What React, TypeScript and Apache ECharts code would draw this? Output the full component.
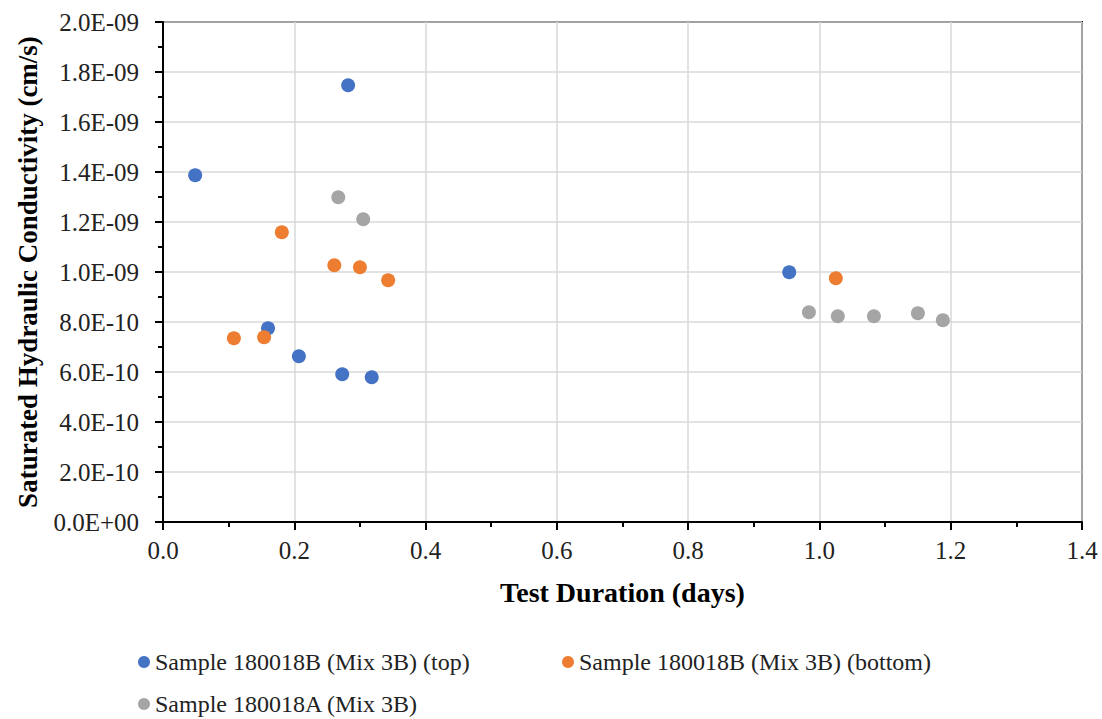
import React, { useEffect, useRef } from "react";
import * as echarts from "echarts";

const topX = [0.049, 0.160, 0.207, 0.273, 0.318, 0.282, 0.954];
const topY = [1.387e-9, 7.75e-10, 6.63e-10, 5.91e-10, 5.79e-10, 1.747e-9, 9.99e-10];
const bottomX = [0.108, 0.154, 0.181, 0.261, 0.300, 0.343, 1.025];
const bottomY = [7.35e-10, 7.39e-10, 1.159e-9, 1.027e-9, 1.019e-9, 9.67e-10, 9.75e-10];
const aX = [0.267, 0.305, 0.984, 1.028, 1.083, 1.150, 1.188];
const aY = [1.299e-9, 1.211e-9, 8.39e-10, 8.23e-10, 8.23e-10, 8.35e-10, 8.07e-10];
const seriesNames = [
  "Sample 180018B (Mix 3B) (top)",
  "Sample 180018B (Mix 3B) (bottom)",
  "Sample 180018A (Mix 3B)",
];
const colors = ["#4472C4", "#ED7D31", "#A5A5A5"];

const pair = (xs: number[], ys: number[]) => xs.map((x, i) => [x, ys[i]]);

function fmtY(v: number) {
  if (v === 0) return "0.0E+00";
  const s = v.toExponential(1);
  const [m, e] = s.split("e");
  const n = parseInt(e, 10);
  const sign = n < 0 ? "-" : "+";
  const abs = Math.abs(n).toString().padStart(2, "0");
  return `${m}E${sign}${abs}`;
}

export default function App() {
  const ref = useRef<HTMLDivElement>(null);
  useEffect(() => {
    const chart = echarts.init(ref.current!, null, { renderer: "svg" });
    const font = "Liberation Serif";
    const legendCommon = {
      icon: "circle",
      itemWidth: 12,
      itemHeight: 12,
      itemGap: 30,
      padding: 0,
      textStyle: { fontFamily: font, fontSize: 24, color: "#222", fontWeight: "normal" },
      selectedMode: false as const,
    };
    chart.setOption({
      animation: false,
      textStyle: { fontFamily: font },
      grid: {
        left: 163,
        top: 22,
        right: 20,
        bottom: 197,
        show: true,
        borderColor: "#000",
        borderWidth: 2,
        backgroundColor: "transparent",
      },
      legend: [
        { ...legendCommon, left: 138, top: 650, data: [seriesNames[0]] },
        { ...legendCommon, left: 562, top: 650, data: [seriesNames[1]] },
        { ...legendCommon, left: 138, top: 692, data: [seriesNames[2]] },
      ],
      xAxis: {
        type: "value",
        min: 0,
        max: 1.4,
        interval: 0.2,
        name: "Test Duration (days)",
        nameLocation: "middle",
        nameGap: 56,
        nameTextStyle: { fontFamily: font, fontSize: 28, fontWeight: "bold", color: "#000" },
        axisLine: { show: true, lineStyle: { color: "#000", width: 2 } },
        axisTick: { show: true, inside: false, length: 8, lineStyle: { color: "#000", width: 2 } },
        minorTick: { show: true, splitNumber: 2, length: 5, lineStyle: { color: "#000", width: 2 } },
        axisLabel: {
          fontFamily: font,
          fontSize: 25,
          fontWeight: "normal",
          color: "#222",
          margin: 16,
          formatter: (v: number) => v.toFixed(1),
        },
        splitLine: { show: true, lineStyle: { color: "#d9d9d9", width: 1.5 } },
      },
      yAxis: {
        type: "value",
        min: 0,
        max: 2e-9,
        interval: 2e-10,
        name: "Saturated Hydraulic Conductivity (cm/s)",
        nameLocation: "middle",
        nameGap: 122,
        nameTextStyle: { fontFamily: font, fontSize: 27, fontWeight: "bold", color: "#000" },
        axisLine: { show: true, lineStyle: { color: "#000", width: 2 } },
        axisTick: { show: true, inside: false, length: 8, lineStyle: { color: "#000", width: 2 } },
        minorTick: { show: true, splitNumber: 2, length: 5, lineStyle: { color: "#000", width: 2 } },
        axisLabel: {
          fontFamily: font,
          fontSize: 25,
          fontWeight: "normal",
          color: "#222",
          margin: 24,
          formatter: fmtY,
        },
        splitLine: { show: true, lineStyle: { color: "#d9d9d9", width: 1.5 } },
      },
      series: [
        { name: seriesNames[0], type: "scatter", symbolSize: 14, itemStyle: { color: colors[0], opacity: 1 }, data: pair(topX, topY) },
        { name: seriesNames[1], type: "scatter", symbolSize: 14, itemStyle: { color: colors[1], opacity: 1 }, data: pair(bottomX, bottomY) },
        { name: seriesNames[2], type: "scatter", symbolSize: 14, itemStyle: { color: colors[2], opacity: 1 }, data: pair(aX, aY) },
      ],
    });
    return () => chart.dispose();
  }, []);
  return <div ref={ref} style={{ width: 1102, height: 719, position: "absolute", left: 0, top: 0 }} />;
}
